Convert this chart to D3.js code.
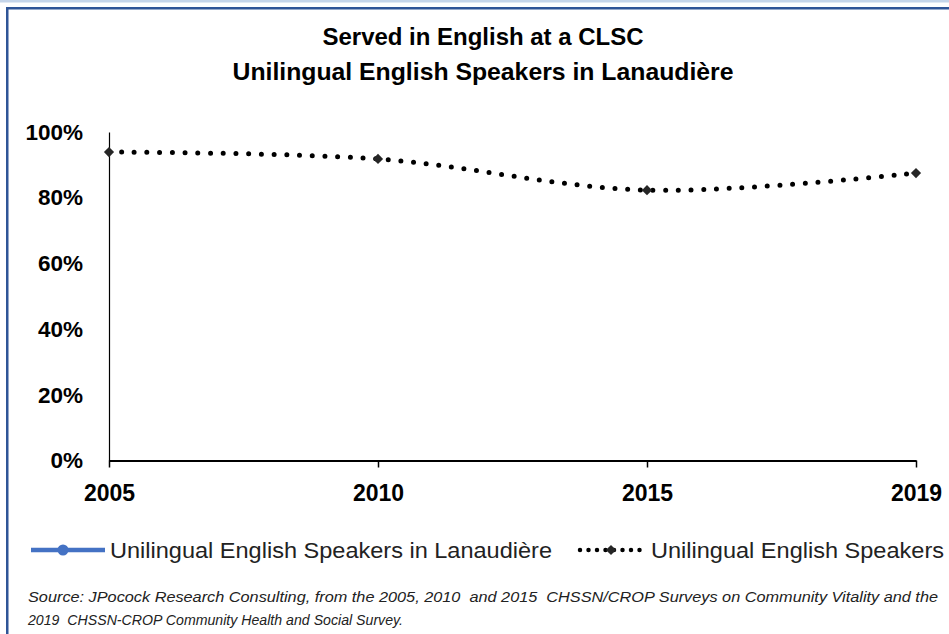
<!DOCTYPE html>
<html>
<head>
<meta charset="utf-8">
<script src="https://cdn.jsdelivr.net/npm/d3@7"></script>
<style>
  html, body { margin: 0; padding: 0; background: #fff; }
  svg { display: block; }
</style>
</head>
<body>
<div id="chart"></div>
<script>
// values
const years = ["2005", "2010", "2015", "2019"];
const lanaudiere = [null, null, null, null];       // no visible points in the original
const unilingual = [0.939, 0.918, 0.823, 0.875];
const yTicks = [0, 0.2, 0.4, 0.6, 0.8, 1];
const titleLines = ["Served in English at a CLSC", "Unilingual English Speakers in Lanaudière"];
const seriesNames = ["Unilingual English Speakers in Lanaudière", "Unilingual English Speakers"];
const sourceLines = [
  "Source: JPocock Research Consulting, from the 2005, 2010  and 2015  CHSSN/CROP Surveys on Community Vitality and the",
  "2019  CHSSN-CROP Community Health and Social Survey."
];

const width = 949, height = 634;
const blue = "#4472c4";
const font = "'Liberation Sans', Arial, sans-serif";

const svg = d3.select("#chart").append("svg")
  .attr("width", width)
  .attr("height", height)
  .style("font-family", font);

// frame
svg.append("rect").attr("x", 0).attr("y", 0).attr("width", width).attr("height", 2.5).attr("fill", "#c5d5ea");
svg.append("rect").attr("x", 6).attr("y", 7).attr("width", width - 6).attr("height", 2.5).attr("fill", "#2f5597");
svg.append("rect").attr("x", 6).attr("y", 7).attr("width", 2.5).attr("height", height - 7).attr("fill", "#2f5597");

// titles (widths pinned to the original)
const titleWidths = [321, 501];
svg.append("g")
  .selectAll("text")
  .data(titleLines)
  .join("text")
  .attr("x", 483)
  .attr("y", (d, i) => 45 + i * 35)
  .attr("text-anchor", "middle")
  .attr("font-size", 24)
  .attr("font-weight", "bold")
  .attr("fill", "#000")
  .attr("textLength", (d, i) => titleWidths[i])
  .attr("lengthAdjust", "spacingAndGlyphs")
  .text(d => d);

const x = d3.scalePoint().domain(years).range([109, 916]);
const y = d3.scaleLinear().domain([0, 1]).range([460.5, 132]);

// y axis
const yAxis = svg.append("g")
  .attr("transform", "translate(109,0)")
  .call(d3.axisLeft(y).tickValues(yTicks).tickFormat(d3.format(".0%")).tickSize(0).tickPadding(26));
yAxis.select(".domain").attr("stroke", "#000").attr("stroke-width", 1.2);
yAxis.selectAll("text")
  .attr("font-size", 22.5)
  .attr("font-weight", "bold")
  .attr("font-family", font)
  .attr("fill", "#000");

// x axis
const xAxis = svg.append("g")
  .attr("transform", "translate(0,460.5)")
  .call(d3.axisBottom(x).tickSize(7).tickPadding(17).tickSizeOuter(0));
xAxis.select(".domain").attr("stroke", "#000").attr("stroke-width", 2.2);
xAxis.selectAll(".tick line").attr("stroke", "#000").attr("stroke-width", 1.5);
xAxis.selectAll("text")
  .attr("font-size", 23)
  .attr("font-weight", "bold")
  .attr("font-family", font)
  .attr("fill", "#000");

// series
const lineGen = d3.line()
  .defined(d => d.v != null)
  .x(d => x(d.year))
  .y(d => y(d.v))
  .curve(d3.curveCatmullRom.alpha(0.5));

const blueData = years.map((year, i) => ({ year, v: lanaudiere[i] }));
const dotData = years.map((year, i) => ({ year, v: unilingual[i] }));

svg.append("path")
  .datum(blueData)
  .attr("fill", "none")
  .attr("stroke", blue)
  .attr("stroke-width", 4)
  .attr("d", lineGen);

svg.append("path")
  .datum(dotData)
  .attr("fill", "none")
  .attr("stroke", "#000")
  .attr("stroke-width", 5)
  .attr("stroke-linecap", "round")
  .attr("stroke-dasharray", "0 12.7")
  .attr("d", lineGen);

const diamond = d3.symbol().type(d3.symbolSquare).size(52);
svg.append("g")
  .selectAll("path")
  .data(dotData.filter(d => d.v != null))
  .join("path")
  .attr("transform", d => `translate(${x(d.year)},${y(d.v)}) rotate(45)`)
  .attr("d", diamond)
  .attr("fill", "#262626");

// legend
const legend = svg.append("g").attr("transform", "translate(0,550)");
legend.append("line").attr("x1", 31).attr("x2", 105).attr("y1", 0).attr("y2", 0)
  .attr("stroke", blue).attr("stroke-width", 4.5);
legend.append("circle").attr("cx", 63).attr("cy", 0).attr("r", 5.5).attr("fill", blue);
legend.append("text").attr("x", 110).attr("y", 8).attr("font-size", 22.5).attr("fill", "#222")
  .attr("textLength", 442).attr("lengthAdjust", "spacingAndGlyphs")
  .text(seriesNames[0]);

legend.append("line").attr("x1", 580).attr("x2", 642).attr("y1", 0).attr("y2", 0)
  .attr("stroke", "#000").attr("stroke-width", 4.5)
  .attr("stroke-linecap", "round").attr("stroke-dasharray", "0 8.5");
legend.append("path").attr("transform", "translate(611,0) rotate(45)").attr("d", diamond).attr("fill", "#262626");
legend.append("text").attr("x", 651).attr("y", 8).attr("font-size", 22.5).attr("fill", "#222")
  .attr("textLength", 293).attr("lengthAdjust", "spacingAndGlyphs")
  .text(seriesNames[1]);

// source note
const sourceWidths = [910, 375];
svg.append("g")
  .selectAll("text")
  .data(sourceLines)
  .join("text")
  .attr("x", 28)
  .attr("y", (d, i) => 602 + i * 23)
  .attr("font-size", 15.5)
  .attr("font-style", "italic")
  .attr("fill", "#222")
  .attr("xml:space", "preserve")
  .attr("textLength", (d, i) => sourceWidths[i])
  .attr("lengthAdjust", "spacingAndGlyphs")
  .text(d => d);
</script>
</body>
</html>
